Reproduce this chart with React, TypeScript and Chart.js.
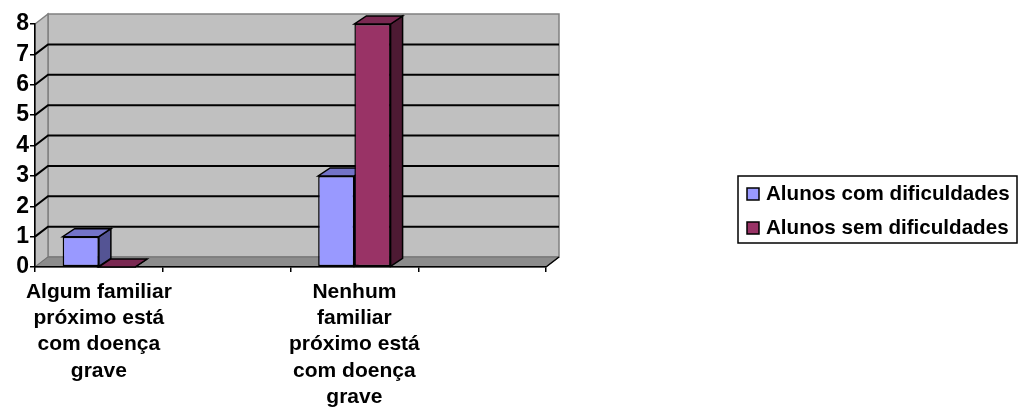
import { useEffect, useRef } from "react";
import { Chart, registerables } from "chart.js";

Chart.register(...registerables);

// ---- data ----
const categories: (string | string[])[] = [
  ["Algum familiar", "próximo está", "com doença", "grave"],
  "",
  ["Nenhum", "familiar", "próximo está", "com doença", "grave"],
  "",
];
const seriesNames = ["Alunos com dificuldades", "Alunos sem dificuldades"];
const comDificuldades = [1, null, 3, null];
const semDificuldades = [0, null, 8, null];
const yMin = 0;
const yMax = 8;
const yStep = 1;

// ---- styles ----
const FONT = "'Liberation Sans', Arial, sans-serif";
const FRONT = ["#9999FF", "#993366"];
const TOP = ["#7373C8", "#7A2952"];
const SIDE = ["#545494", "#4D1A33"];
const WALL_DX = 13;
const WALL_DY = -10;
const BAR_DX = 12;
const BAR_DY = -8;

function poly(ctx: CanvasRenderingContext2D, pts: number[][], fill: string | null, stroke: string | null, lw = 1) {
  ctx.beginPath();
  ctx.moveTo(pts[0][0], pts[0][1]);
  for (let i = 1; i < pts.length; i++) ctx.lineTo(pts[i][0], pts[i][1]);
  ctx.closePath();
  if (fill) {
    ctx.fillStyle = fill;
    ctx.fill();
  }
  if (stroke) {
    ctx.strokeStyle = stroke;
    ctx.lineWidth = lw;
    ctx.stroke();
  }
}

const threeD = {
  id: "threeD",
  beforeDraw(chart: any) {
    const ctx: CanvasRenderingContext2D = chart.ctx;
    const { left, right, top, bottom } = chart.chartArea;
    const ys = chart.scales.y;
    const dx = WALL_DX, dy = WALL_DY;
    ctx.save();
    // back wall
    poly(ctx, [[left + dx, top + dy], [right + dx, top + dy], [right + dx, bottom + dy], [left + dx, bottom + dy]], "#C0C0C0", "#808080", 1.5);
    // side wall
    poly(ctx, [[left, top], [left + dx, top + dy], [left + dx, bottom + dy], [left, bottom]], "#C0C0C0", "#808080", 1.5);
    // floor
    poly(ctx, [[left, bottom], [right, bottom], [right + dx, bottom + dy], [left + dx, bottom + dy]], "#8C8C8C", "#707070", 1);
    // grid lines
    for (let v = yMin + yStep; v < yMax; v += yStep) {
      const py = ys.getPixelForValue(v);
      ctx.beginPath();
      ctx.moveTo(left, py);
      ctx.lineTo(left + dx, py + dy);
      ctx.lineTo(right + dx, py + dy);
      ctx.strokeStyle = "#000";
      ctx.lineWidth = 2;
      ctx.stroke();
    }
    // right floor edge
    ctx.beginPath();
    ctx.moveTo(right, bottom);
    ctx.lineTo(right + dx, bottom + dy);
    ctx.strokeStyle = "#000";
    ctx.lineWidth = 1.5;
    ctx.stroke();
    ctx.restore();
  },
  beforeDatasetsDraw(chart: any) {
    const ctx: CanvasRenderingContext2D = chart.ctx;
    ctx.save();
    chart.data.datasets.forEach((ds: any, di: number) => {
      const meta = chart.getDatasetMeta(di);
      meta.data.forEach((el: any, i: number) => {
        if (ds.data[i] === null || ds.data[i] === undefined) return;
        const { x, y, base, width } = el.getProps(["x", "y", "base", "width"], true);
        const l = x - width / 2, r = x + width / 2;
        poly(ctx, [[r, y], [r + BAR_DX, y + BAR_DY], [r + BAR_DX, base + BAR_DY], [r, base]], SIDE[di], "#000", 1.5);
        poly(ctx, [[l, y], [r, y], [r + BAR_DX, y + BAR_DY], [l + BAR_DX, y + BAR_DY]], TOP[di], "#000", 1.5);
      });
    });
    ctx.restore();
  },
  afterDraw(chart: any) {
    const ctx: CanvasRenderingContext2D = chart.ctx;
    ctx.save();
    const bx = 738, by = 176, bw = 279, bh = 67;
    ctx.strokeStyle = "#000";
    ctx.lineWidth = 1.5;
    ctx.strokeRect(bx, by, bw, bh);
    ctx.font = `bold 20.6px ${FONT}`;
    ctx.textBaseline = "alphabetic";
    ctx.textAlign = "left";
    chart.data.datasets.forEach((ds: any, di: number) => {
      const rowY = 200 + di * 34;
      ctx.fillStyle = FRONT[di];
      ctx.fillRect(747, rowY - 12, 12, 12);
      ctx.strokeStyle = "#000";
      ctx.lineWidth = 1.5;
      ctx.strokeRect(747, rowY - 12, 12, 12);
      ctx.fillStyle = "#000";
      ctx.fillText(ds.label, 766, rowY);
    });
    ctx.restore();
  },
};

export default function App() {
  const ref = useRef<HTMLCanvasElement | null>(null);
  useEffect(() => {
    document.body.style.margin = "0";
    const canvas = ref.current;
    if (!canvas) return;
    Chart.defaults.color = "#000";
    const chart = new Chart(canvas, {
      type: "bar",
      data: {
        labels: categories,
        datasets: [
          {
            label: seriesNames[0],
            data: comDificuldades,
            backgroundColor: FRONT[0],
            borderColor: "#000",
            borderWidth: 1.5,
            borderSkipped: false,
          },
          {
            label: seriesNames[1],
            data: semDificuldades,
            backgroundColor: FRONT[1],
            borderColor: "#000",
            borderWidth: 1.5,
            borderSkipped: false,
          },
        ],
      } as any,
      options: {
        responsive: false,
        animation: false,
        maintainAspectRatio: false,
        layout: { padding: { top: 24, right: 473, left: 0, bottom: 0 } },
        datasets: { bar: { barPercentage: 1, categoryPercentage: 0.567 } },
        plugins: { legend: { display: false }, tooltip: { enabled: false } },
        scales: {
          x: {
            grid: { display: true, drawOnChartArea: false, drawTicks: true, tickLength: 5, color: "#000", lineWidth: 1.5, offset: true },
            border: { display: true, color: "#000", width: 1.5 },
            ticks: {
              maxRotation: 0,
              minRotation: 0,
              autoSkip: false,
              padding: 7,
              color: "#000",
              font: { family: FONT, size: 21, weight: "bold", lineHeight: 1.25 },
            },
            afterFit: (s: any) => {
              s.height = 145;
            },
          },
          y: {
            min: yMin,
            max: yMax,
            grid: { display: true, drawOnChartArea: false, drawTicks: true, tickLength: 5, color: "#000", lineWidth: 1.5 },
            border: { display: true, color: "#000", width: 1.5 },
            ticks: {
              stepSize: yStep,
              autoSkip: false,
              padding: 1,
              color: "#000",
              font: { family: FONT, size: 23, weight: "bold", lineHeight: 1 },
            },
            afterFit: (s: any) => {
              s.width = 35;
            },
          },
        },
      } as any,
      plugins: [threeD],
    });
    return () => chart.destroy();
  }, []);
  return (
    <div style={{ width: 1019, height: 412 }}>
      <canvas ref={ref} width={1019} height={412} style={{ display: "block" }} />
    </div>
  );
}
